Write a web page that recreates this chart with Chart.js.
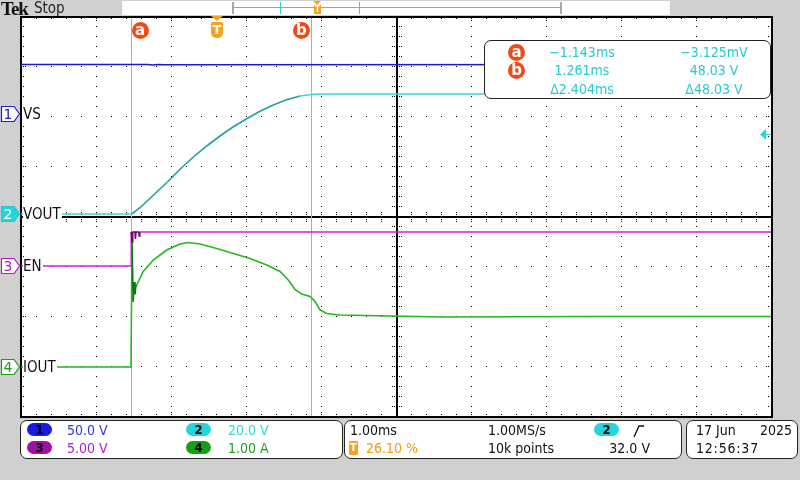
<!DOCTYPE html>
<html>
<head>
<meta charset="utf-8">
<title>Tek capture - VOUT / IOUT start-up</title>
<script src="https://cdn.jsdelivr.net/npm/chart.js@4.4.1/dist/chart.umd.min.js"></script>
<style>
  body { margin: 0; background: #d0d0d0; }
  #scope { position: relative; width: 800px; height: 480px; overflow: hidden; background: #d0d0d0;
           font-family: "DejaVu Sans Condensed", "Liberation Sans Narrow", "DejaVu Sans", sans-serif; }
  #chart { position: absolute; left: 0; top: 0; }
  .abs { position: absolute; }
  .txt { position: absolute; white-space: nowrap; height: 16px; line-height: 16px; font-size: 14px; }
  .box { position: absolute; background: #fff; border: 1px solid #222; border-radius: 7px; box-sizing: border-box; }
  .pill { position: absolute; width: 25px; height: 13px; border-radius: 7px; font-size: 13px; line-height: 13px;
          text-align: center; font-weight: bold; color: #000; }
  .dot { position: absolute; width: 17px; height: 17px; border-radius: 50%; background: #f04a16; color: #fff;
         font-weight: bold; font-size: 15px; line-height: 16px; text-align: center; font-family: "DejaVu Sans", sans-serif; }
  .lbl { position: absolute; background: #fff; white-space: nowrap; height: 16px; line-height: 16px; font-size: 15px; color: #111; padding-right: 1px; }
</style>
</head>
<body>
<div id="scope">
  <canvas id="chart" width="800" height="480"></canvas>
</div>
<script>
console.log('scope capture: loaded');

// acquisition settings
const xMinMs = -2.61;          // 26.10 % pre-trigger at 1.00 ms/div
const xMaxMs = 7.39;
const cursorTimes = [-1.143, 1.261];
const cursorNames = ['a', 'b'];
const triggerTime = 0;
const triggerLevel = 32.0;     // V, channel 2

// channels: volts (or amps) per division and ground offset in divisions
const chanNames = ['VS', 'VOUT', 'EN', 'IOUT'];
const chanScales = [50, 20, 5, 1];
const chanOffsets = [2.04, 0.04, -1.0, -3.02];
const chanColors = ['#1a1acc', '#3cd4d8', '#d41cd4', '#22b822'];

// traces (time in ms)
const vsTime = [-2.61, -0.92, -0.85, -0.78, -0.70, 7.39];
const vsValues = [49.5, 49.5, 49.0, 49.4, 49.2, 49.5];

const voutTime = [-2.61, -1.134, -1.023, -0.846, -0.668, -0.49, -0.312, -0.134, 0.043, 0.221, 0.399, 0.577,
                  0.754, 0.932, 1.11, 1.288, 1.466, 7.39];
const voutValues = [0, 0, 2.5, 7.5, 12.5, 17.9, 22.8, 27.2, 31.2, 34.9, 38.1, 41.1,
                    43.6, 45.7, 47.2, 47.9, 48.0, 48.0];

const enTime = [-2.61, -1.143, -1.14, -1.13, -1.12, -1.09, -1.085, -1.075, -1.04, -1.035, -1.025, 7.39];
const enValues = [0, 0, 3.4, 2.4, 3.4, 3.4, 2.7, 3.4, 3.4, 3.0, 3.4, 3.4];

const ioutTime = [-2.61, -1.143, -1.13, -1.115, -1.10, -1.09, -1.08, -1.067, -0.98, -0.846, -0.667, -0.49, -0.38,
                  -0.223, 0.0, 0.221, 0.443, 0.666, 0.843, 0.954, 1.043, 1.133, 1.243, 1.31, 1.377, 1.466, 1.643,
                  3.0, 5.0, 7.39];
const ioutValues = [0, 0, 2.54, 1.3, 1.7, 1.45, 1.6, 1.64, 1.91, 2.14, 2.34, 2.46, 2.49,
                    2.46, 2.37, 2.27, 2.17, 2.04, 1.91, 1.74, 1.55, 1.46, 1.41, 1.31, 1.14, 1.07, 1.04,
                    1.0, 1.01, 1.01];

// readout + status text
const readoutRows = [
  ['a', '\u22121.143ms', '\u22123.125mV'],
  ['b', '1.261ms', '48.03 V'],
  ['', '\u03942.404ms', '\u039448.03 V']
];

function toDiv(times, values, ch) {
  return times.map((t, i) => ({ x: t, y: values[i] / chanScales[ch] + chanOffsets[ch] }));
}

const graticulePlugin = {
  id: 'graticule',
  beforeDatasetsDraw(chart) {
    const { ctx, chartArea: a, scales: { x, y } } = chart;
    const px = v => Math.round(x.getPixelForValue(v));
    const py = v => Math.round(y.getPixelForValue(v));
    ctx.save();
    ctx.fillStyle = '#ffffff';
    ctx.fillRect(a.left, a.top, a.right - a.left, a.bottom - a.top);
    ctx.fillStyle = '#000000';
    // dotted horizontal division lines
    for (let j = 1; j < 8; j++) {
      if (j === 4) continue;
      for (let i = 0; i <= 50; i++) ctx.fillRect(px(xMinMs + i * 0.2), py(-4 + j), 1, 1);
    }
    // dotted vertical division lines
    for (let i = 1; i < 10; i++) {
      if (i === 5) continue;
      for (let j = 0; j <= 40; j++) ctx.fillRect(px(xMinMs + i), py(-4 + j * 0.2), 1, 1);
    }
    // edge ticks
    for (let i = 0; i <= 50; i++) {
      const xx = px(xMinMs + i * 0.2);
      ctx.fillRect(xx, a.top + 2, 1, 1);
      ctx.fillRect(xx, a.bottom - 2, 1, 1);
      if (i % 5 === 0) {
        ctx.fillRect(xx, a.top + 4, 1, 1);
        ctx.fillRect(xx, a.bottom - 4, 1, 1);
      }
    }
    for (let j = 0; j <= 40; j++) {
      const yy = py(-4 + j * 0.2);
      ctx.fillRect(a.left + 2, yy, 1, 1);
      ctx.fillRect(a.right - 3, yy, 1, 1);
      if (j % 5 === 0) {
        ctx.fillRect(a.left + 4, yy, 1, 1);
        ctx.fillRect(a.right - 5, yy, 1, 1);
      }
    }
    // centre cross with ticks
    const cx = px(xMinMs + 5), cy = py(0);
    ctx.fillRect(a.left, cy, a.right - a.left, 2);
    ctx.fillRect(cx, a.top, 2, a.bottom - a.top);
    for (let i = 0; i <= 50; i++) {
      const xx = px(xMinMs + i * 0.2);
      [-4, -2, 3, 5].forEach(d => ctx.fillRect(xx, cy + d, 1, 1));
    }
    for (let j = 0; j <= 40; j++) {
      const yy = py(-4 + j * 0.2);
      [-4, -2, 3, 5].forEach(d => ctx.fillRect(cx + d, yy, 1, 1));
    }
    // border
    ctx.fillRect(a.left - 1, a.top, 2, a.bottom - a.top + 2);
    ctx.fillRect(a.right, a.top, 2, a.bottom - a.top + 2);
    ctx.fillRect(a.left - 1, a.top, a.right - a.left + 3, 2);
    ctx.fillRect(a.left - 1, a.bottom, a.right - a.left + 3, 2);
    // cursors
    ctx.fillStyle = '#52d2e2';
    cursorTimes.forEach(t => ctx.fillRect(px(t), a.top + 2, 1, a.bottom - a.top - 2));
    ctx.restore();
  },
  afterDatasetsDraw(chart) {
    const { ctx, chartArea: a, scales: { y } } = chart;
    // trigger level arrow for channel 2
    const ty = Math.round(y.getPixelForValue(triggerLevel / chanScales[1] + chanOffsets[1]));
    ctx.save();
    ctx.fillStyle = '#22d6de';
    ctx.beginPath();
    ctx.moveTo(a.right - 11, ty + 0.5);
    ctx.lineTo(a.right - 5, ty - 5);
    ctx.lineTo(a.right - 5, ty + 6);
    ctx.closePath();
    ctx.fill();
    ctx.fillRect(a.right - 5, ty, 5, 1);
    ctx.restore();
  }
};

function segColor(from, to, inside, outside) {
  return ctx => (ctx.p0.parsed.x >= from && ctx.p1.parsed.x <= to) ? inside : outside;
}

const datasets = [
  { label: 'VS', data: toDiv(vsTime, vsValues, 0), borderColor: chanColors[0], borderWidth: 1.5 },
  { label: 'VOUT', data: toDiv(voutTime, voutValues, 1), borderColor: chanColors[1], borderWidth: 1.6,
    segment: { borderColor: segColor(-1.14, 1.2, '#22a0a0', chanColors[1]) } },
  { label: 'EN', data: toDiv(enTime, enValues, 2), borderColor: chanColors[2], borderWidth: 1.5,
    segment: { borderColor: segColor(-1.14, -1.02, '#6a0a6a', chanColors[2]) } },
  { label: 'IOUT', data: toDiv(ioutTime, ioutValues, 3), borderColor: chanColors[3], borderWidth: 1.6,
    segment: { borderColor: segColor(-1.14, -1.06, '#0a7a0a', chanColors[3]) } }
];

const chart = new Chart(document.getElementById('chart'), {
  type: 'line',
  data: { datasets: datasets },
  options: {
    responsive: false,
    animation: false,
    devicePixelRatio: 1,
    layout: { padding: { left: 21, top: 16, right: 29, bottom: 64 } },
    elements: { point: { radius: 0 }, line: { tension: 0 } },
    scales: {
      x: { type: 'linear', min: xMinMs, max: xMaxMs, display: false },
      y: { type: 'linear', min: -4, max: 4, display: false }
    },
    plugins: { legend: { display: false }, tooltip: { enabled: false } }
  },
  plugins: [graticulePlugin]
});

// ---- overlays (text stays as DOM text) ----
const scope = document.getElementById('scope');

function add(tag, cls, css, text) {
  const el = document.createElement(tag);
  if (cls) el.className = cls;
  Object.assign(el.style, css);
  if (text !== undefined) el.textContent = text;
  scope.appendChild(el);
  return el;
}
function txt(text, left, cy, color, extra) {
  return add('div', 'txt', Object.assign({ left: left + 'px', top: (cy - 8) + 'px', color: color }, extra || {}), text);
}

// top strip
add('div', 'abs', { left: '1px', top: '-2px', fontFamily: '"Liberation Serif", "DejaVu Serif", serif', fontWeight: 'bold',
  fontSize: '19px', letterSpacing: '-1px', color: '#111' }, 'Tek');
add('div', 'abs', { left: '34px', top: '-1px', fontSize: '15px', color: '#222' }, 'Stop');
add('div', 'abs', { left: '122px', top: '1px', width: '548px', height: '14px', background: '#fff' });
add('div', 'abs', { left: '232px', top: '2px', width: '2px', height: '12px', background: '#a8a8a8' });
add('div', 'abs', { left: '560px', top: '2px', width: '2px', height: '12px', background: '#a8a8a8' });
add('div', 'abs', { left: '234px', top: '7px', width: '326px', height: '1px', background: '#30d0d8' });
add('div', 'abs', { left: '280px', top: '2px', width: '1px', height: '12px', background: '#30d0d8' });
add('div', 'abs', { left: '359px', top: '2px', width: '1px', height: '12px', background: '#30d0d8' });
add('div', 'abs', { left: '314px', top: '5px', width: '7px', height: '9px', background: '#f6a21e', color: '#fff',
  fontSize: '8px', lineHeight: '9px', textAlign: 'center', fontWeight: 'bold' }, 'T');
add('div', 'abs', { left: '313px', top: '1px', width: '0', height: '0', borderLeft: '4px solid transparent',
  borderRight: '4px solid transparent', borderTop: '4px solid #f6a21e' });

// cursor and trigger markers above the graticule
const xs = chart.scales.x, ys = chart.scales.y;
cursorTimes.forEach((t, i) => {
  const cx = xs.getPixelForValue(t) + (i === 0 ? 9 : -10);
  add('div', 'dot', { left: (cx - 8.5) + 'px', top: '22px' }, cursorNames[i]);
});
const tx = Math.round(xs.getPixelForValue(triggerTime));
add('div', 'abs', { left: (tx - 6) + 'px', top: '16px', width: '0', height: '0', borderLeft: '6px solid transparent',
  borderRight: '6px solid transparent', borderTop: '5px solid #f6a21e' });
add('div', 'abs', { left: (tx - 6) + 'px', top: '22px', width: '12px', height: '16px', background: '#f6a21e',
  borderRadius: '2px 2px 5px 5px', color: '#fff', fontWeight: 'bold', fontSize: '13px', lineHeight: '16px',
  textAlign: 'center', fontFamily: '"DejaVu Sans", sans-serif' }, 'T');

// channel markers + names on the left
const markerStyle = [
  { stroke: '#2020c8', fill: '#ffffff', text: '#2020c8' },
  { stroke: '#20c8d0', fill: '#22d6de', text: '#ffffff' },
  { stroke: '#b020b8', fill: '#ffffff', text: '#b020b8' },
  { stroke: '#18a018', fill: '#ffffff', text: '#18a018' }
];
chanNames.forEach((name, ch) => {
  const gy = Math.round(ys.getPixelForValue(chanOffsets[ch]));
  const m = markerStyle[ch];
  const svg = add('div', 'abs', { left: '0px', top: (gy - 8) + 'px', width: '21px', height: '16px' });
  svg.innerHTML = '<svg width="21" height="16" xmlns="http://www.w3.org/2000/svg">' +
    '<polygon points="1.5,0.5 14,0.5 19.5,8 14,15.5 1.5,15.5" fill="' + m.fill + '" stroke="' + m.stroke + '" stroke-width="1.2"/>' +
    '<text x="8" y="13" text-anchor="middle" font-family="DejaVu Sans, sans-serif" font-size="14" fill="' + m.text + '">' + (ch + 1) + '</text></svg>';
  add('div', 'lbl', { left: '23px', top: (gy - 8) + 'px' }, name);
});

// cursor readout box
add('div', 'box', { left: '484px', top: '40px', width: '287px', height: '59px' });
readoutRows.forEach((row, r) => {
  const cy = [52, 70, 89][r];
  if (row[0]) add('div', 'dot', { left: '508px', top: (cy - 8) + 'px' }, row[0]);
  txt(row[1], 532, cy, '#28c8d8', { width: '100px', textAlign: 'center' });
  txt(row[2], 664, cy, '#28c8d8', { width: '100px', textAlign: 'center' });
});

// status boxes
add('div', 'box', { left: '20px', top: '420px', width: '323px', height: '39px' });
add('div', 'box', { left: '344px', top: '420px', width: '338px', height: '39px' });
add('div', 'box', { left: '686px', top: '420px', width: '112px', height: '39px' });

const chanSettings = ['50.0 V', '20.0 V', '5.00 V', '1.00 A'];
const pillColors = ['#1a1ae6', '#22d6de', '#a010a8', '#14a014'];
const settingColors = ['#3434e6', '#30d4e4', '#b020c0', '#1ea01e'];
[[0, 27, 67, 430], [1, 186, 228, 430], [2, 27, 67, 448], [3, 186, 228, 448]].forEach(([ch, pl, tl, cy]) => {
  add('div', 'pill', { left: pl + 'px', top: (cy - 7) + 'px', background: pillColors[ch] }, String(ch + 1));
  txt(chanSettings[ch], tl, cy, settingColors[ch]);
});

txt('1.00ms', 350, 430, '#111');
add('div', 'abs', { left: '349px', top: '441px', width: '9px', height: '14px', background: '#f6a21e', color: '#fff',
  fontSize: '11px', lineHeight: '14px', textAlign: 'center', fontWeight: 'bold', borderRadius: '1px' }, 'T');
txt('26.10 %', 366, 448, '#f09a10');
txt('1.00MS/s', 488, 430, '#111');
txt('10k points', 488, 448, '#111');
add('div', 'pill', { left: '594px', top: '423px', background: '#22d6de' }, '2');
const edge = add('div', 'abs', { left: '632px', top: '423px', width: '14px', height: '14px' });
edge.innerHTML = '<svg width="14" height="14" xmlns="http://www.w3.org/2000/svg"><polyline points="2,13 7,2 12,2" fill="none" stroke="#111" stroke-width="1.3"/></svg>';
txt('32.0 V', 570, 448, '#111', { width: '80px', textAlign: 'right' });

txt('17 Jun', 696, 430, '#111');
txt('2025', 712, 430, '#111', { width: '80px', textAlign: 'right' });
txt('12:56:37', 696, 448, '#111', { letterSpacing: '0.8px' });

console.log('scope capture: rendered');
</script>
</body>
</html>
